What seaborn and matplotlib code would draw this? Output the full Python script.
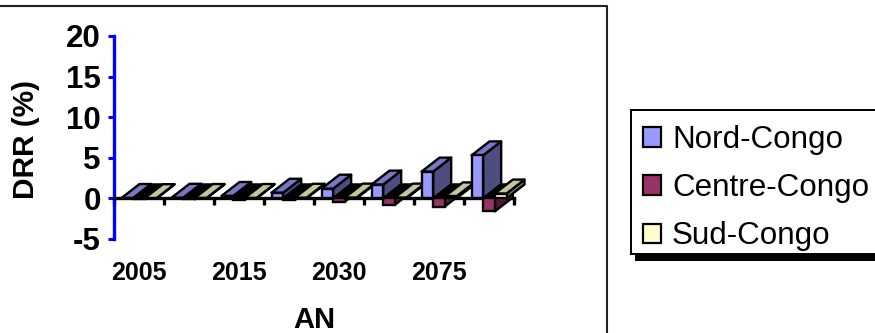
import matplotlib
matplotlib.use("Agg")
import matplotlib.pyplot as plt
from matplotlib.lines import Line2D
from matplotlib.patches import Patch, Polygon, Rectangle
from matplotlib.ticker import FixedLocator
import pandas as pd
import seaborn as sns

years = ["2005", "2010", "2015", "2020", "2030", "2050", "2075", "2100"]
labelled_years = ["2005", "2015", "2030", "2075"]
regions = ["Nord-Congo", "Centre-Congo", "Sud-Congo"]
nord_congo = [0.05, 0.08, 0.3, 0.7, 1.2, 1.7, 3.3, 5.3]
centre_congo = [-0.05, -0.1, -0.15, -0.2, -0.4, -0.8, -1.0, -1.6]
sud_congo = [0.03, 0.05, 0.05, 0.08, 0.1, 0.1, 0.25, 0.6]
region_colors = ["#9999FF", "#993366", "#FFFFCC"]
top_colors = ["#7777C4", "#000000", "#C6C69E"]
side_colors = ["#4D4D80", "#4D1A33", "#808066"]

sns.set_style("white")
plt.rcParams["font.family"] = ["Liberation Sans", "DejaVu Sans"]
plt.rcParams["axes.unicode_minus"] = False
plt.rcParams["text.color"] = "black"
plt.rcParams["axes.labelcolor"] = "black"
plt.rcParams["xtick.color"] = "black"
plt.rcParams["ytick.color"] = "black"

table = pd.DataFrame({
    "AN": years * 3,
    "Region": [r for r in regions for _ in years],
    "DRR": nord_congo + centre_congo + sud_congo,
})

W, H = 875, 333
fig = plt.figure(figsize=(W / 100, H / 100), dpi=100)
ax = fig.add_axes([114 / W, (H - 239) / H, 400 / W, 203 / H])
ax.patch.set_alpha(0)

LW = 1.7
sns.barplot(
    data=table, x="AN", y="DRR", hue="Region", order=years, hue_order=regions,
    palette=region_colors, width=0.7, gap=0, saturation=1, legend=False,
    edgecolor="black", linewidth=LW, ax=ax,
)

ax.set_xlim(-0.5, 7.5)
ax.set_ylim(-5, 20)

# Oblique depth of the bars, in axis units
DX, DY = 0.36, 1.72
for s, container in enumerate(ax.containers):
    for k, bar in enumerate(container):
        x0, x1 = bar.get_x(), bar.get_x() + bar.get_width()
        y0, y1 = sorted((bar.get_y(), bar.get_y() + bar.get_height()))
        z = 3 + k * 10 + s * 3
        side = Polygon([(x1, y0), (x1 + DX, y0 + DY), (x1 + DX, y1 + DY), (x1, y1)],
                       facecolor=side_colors[s], edgecolor="black", lw=LW,
                       joinstyle="round", zorder=z, clip_on=False)
        top = Polygon([(x0, y1), (x1, y1), (x1 + DX, y1 + DY), (x0 + DX, y1 + DY)],
                      facecolor=top_colors[s], edgecolor="black", lw=LW,
                      joinstyle="round", zorder=z + 1, clip_on=False)
        ax.add_patch(side)
        ax.add_patch(top)
        bar.set_zorder(z + 2)
        bar.set_clip_on(False)

for name in ("top", "right"):
    ax.spines[name].set_visible(False)
ax.spines["bottom"].set_position(("data", 0))
ax.spines["bottom"].set_color("black")
ax.spines["bottom"].set_linewidth(2.4)
ax.spines["left"].set_color("#0000FF")
ax.spines["left"].set_linewidth(2.4)

ax.set_yticks([-5, 0, 5, 10, 15, 20])
ax.tick_params(axis="y", length=4, width=2.2, color="#0000FF", pad=5.5,
               labelsize=22.5, left=True)
for label in ax.get_yticklabels():
    label.set_fontweight("bold")

ax.set_xticks([0, 2, 4, 6], labelled_years)
ax.xaxis.set_minor_locator(FixedLocator([i - 0.5 for i in range(9)]))
ax.tick_params(axis="x", which="major", length=0, pad=45, labelsize=18, bottom=True)
ax.tick_params(axis="x", which="minor", length=5, width=2.4, color="black", bottom=True)
for label in ax.get_xticklabels():
    label.set_fontweight("bold")

ax.set_xlabel("AN", fontsize=21, fontweight="bold")
ax.xaxis.set_label_coords(0.5, -0.33)
ax.set_ylabel("DRR (%)", fontsize=21.5, fontweight="bold")
ax.yaxis.set_label_coords(-0.185, 0.488)

# Legend panel with its drop shadow, running past the right edge
fig.add_artist(Rectangle((635 / W, (H - 261) / H), 260 / W, 145 / H,
                         transform=fig.transFigure, facecolor="black", edgecolor="none"))
fig.add_artist(Rectangle((631 / W, (H - 254) / H), 260 / W, 144 / H,
                         transform=fig.transFigure, facecolor="white",
                         edgecolor="black", lw=1.4))

handles = [Patch(facecolor=c, edgecolor="black", linewidth=1.6) for c in region_colors]
legend = fig.legend(
    handles, regions, loc="upper left", bbox_to_anchor=(643 / W, (H - 125) / H),
    borderaxespad=0, borderpad=0, fontsize=22.6, frameon=False,
    handlelength=0.58, handleheight=0.58, handletextpad=0.34, labelspacing=0.58,
)

# Outer chart frame, open on the left and bottom
fig.add_artist(Line2D([0, 607 / W, 607 / W], [(H - 6) / H, (H - 6) / H, 0],
                      transform=fig.transFigure, color="#222222", lw=1.5))

fig.savefig("out.png", dpi=100)
